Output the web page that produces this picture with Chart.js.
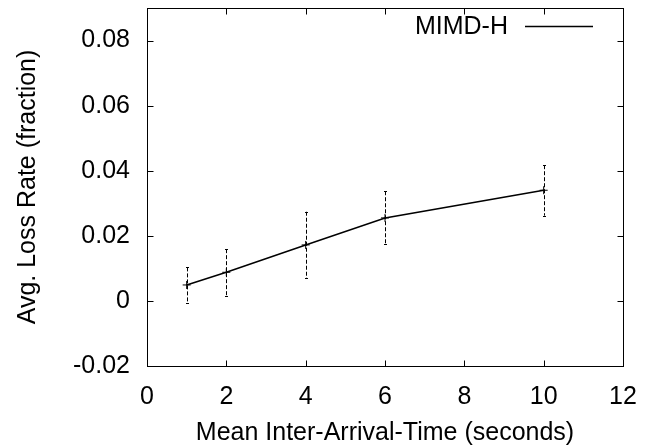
<!DOCTYPE html>
<html lang="en">
<head>
    <meta charset="UTF-8">
    <title>MIMD-H Avg. Loss Rate</title>
    <script src="https://cdn.jsdelivr.net/npm/chart.js"></script>
    <style>
        html, body { margin: 0; padding: 0; background: #fff; }
        #lossChart { display: block; }
    </style>
</head>
<body>
    <canvas id="lossChart" width="651" height="446"></canvas>

    <script>
        // values
        const seriesLabel = 'MIMD-H';
        const arrivalTimes = [1, 2, 4, 6, 10];
        const lossRates = [0.0049, 0.0088, 0.0172, 0.0255, 0.0340];
        const errLow = [-0.0006, 0.0016, 0.0069, 0.0174, 0.0262];
        const errHigh = [0.0103, 0.0159, 0.0274, 0.0337, 0.0417];

        const xTicks = [0, 2, 4, 6, 8, 10, 12];
        const xTickLabels = ['0', '2', '4', '6', '8', '10', '12'];
        const yTicks = [-0.02, 0, 0.02, 0.04, 0.06, 0.08];
        const yTickLabels = ['-0.02', '0', '0.02', '0.04', '0.06', '0.08'];

        const FONT = { family: '"Liberation Sans", Arial, sans-serif', size: 25 };
        const TICK_LEN = 6;

        // dashed error bars with tiny caps
        const errorBars = {
            id: 'errorBars',
            beforeDatasetsDraw(chart) {
                const ctx = chart.ctx;
                const xs = chart.scales.x, ys = chart.scales.y;
                ctx.save();
                ctx.strokeStyle = '#000';
                ctx.lineWidth = 1;
                arrivalTimes.forEach((t, i) => {
                    const px = Math.round(xs.getPixelForValue(t)) + 0.5;
                    const top = ys.getPixelForValue(errHigh[i]);
                    const bot = ys.getPixelForValue(errLow[i]);
                    ctx.setLineDash([4, 2]);
                    ctx.beginPath();
                    ctx.moveTo(px, top);
                    ctx.lineTo(px, bot);
                    ctx.stroke();
                    ctx.setLineDash([]);
                    ctx.beginPath();
                    ctx.moveTo(px - 1.5, Math.round(top) + 0.5);
                    ctx.lineTo(px + 1.5, Math.round(top) + 0.5);
                    ctx.moveTo(px - 1.5, Math.round(bot) + 0.5);
                    ctx.lineTo(px + 1.5, Math.round(bot) + 0.5);
                    ctx.stroke();
                });
                ctx.restore();
            }
        };

        // box frame, inward ticks on all four sides, and the key top right
        const frame = {
            id: 'frame',
            afterDraw(chart) {
                const ctx = chart.ctx;
                const a = chart.chartArea;
                const xs = chart.scales.x, ys = chart.scales.y;
                const l = Math.round(a.left) + 0.5, r = Math.round(a.right) + 0.5;
                const t = Math.round(a.top) + 0.5, b = Math.round(a.bottom) + 0.5;
                ctx.save();
                ctx.strokeStyle = '#000';
                ctx.lineWidth = 1;
                ctx.strokeRect(l, t, r - l, b - t);
                ctx.beginPath();
                xTicks.forEach(v => {
                    const px = Math.round(xs.getPixelForValue(v)) + 0.5;
                    ctx.moveTo(px, b); ctx.lineTo(px, b - TICK_LEN);
                    ctx.moveTo(px, t); ctx.lineTo(px, t + TICK_LEN);
                });
                yTicks.forEach(v => {
                    const py = Math.round(ys.getPixelForValue(v)) + 0.5;
                    ctx.moveTo(l, py); ctx.lineTo(l + TICK_LEN, py);
                    ctx.moveTo(r, py); ctx.lineTo(r - TICK_LEN, py);
                });
                ctx.stroke();

                // key: label then line sample
                const ky = a.top + 18.5;
                ctx.font = FONT.size + 'px ' + FONT.family;
                ctx.fillStyle = '#000';
                ctx.textAlign = 'right';
                ctx.textBaseline = 'middle';
                ctx.fillText(chart.data.datasets[0].label, a.right - 115, ky + 1);
                ctx.lineWidth = 1.5;
                ctx.beginPath();
                ctx.moveTo(a.right - 98, ky);
                ctx.lineTo(a.right - 30, ky);
                ctx.stroke();
                ctx.restore();
            }
        };

        const lossChart = new Chart(document.getElementById('lossChart').getContext('2d'), {
            type: 'line',
            data: {
                datasets: [{
                    label: seriesLabel,
                    data: arrivalTimes.map((t, i) => ({ x: t, y: lossRates[i] })),
                    borderColor: '#000',
                    borderWidth: 1.5,
                    pointStyle: 'cross',
                    pointRadius: 4,
                    pointBorderColor: '#000',
                    pointBorderWidth: 1,
                    fill: false,
                    tension: 0
                }]
            },
            options: {
                responsive: false,
                animation: false,
                devicePixelRatio: 1,
                layout: { padding: { left: 0, right: 28, top: 8, bottom: 0 } },
                plugins: {
                    legend: { display: false },
                    tooltip: { enabled: false }
                },
                scales: {
                    x: {
                        type: 'linear',
                        min: 0,
                        max: 12,
                        afterBuildTicks: s => { s.ticks = xTicks.map(v => ({ value: v })); },
                        afterFit: s => {
                            s.height = 80;
                            s.paddingLeft = 0;
                            s.paddingRight = 0;
                        },
                        grid: { display: false, drawTicks: false },
                        border: { display: false },
                        ticks: {
                            color: '#000',
                            font: FONT,
                            padding: 16,
                            maxRotation: 0,
                            autoSkip: false,
                            callback: (v, i) => xTickLabels[i]
                        },
                        title: {
                            display: true,
                            text: 'Mean Inter-Arrival-Time (seconds)',
                            color: '#000',
                            font: FONT,
                            padding: { top: 0, bottom: -2 }
                        }
                    },
                    y: {
                        type: 'linear',
                        min: -0.02,
                        max: 0.09,
                        afterBuildTicks: s => { s.ticks = yTicks.map(v => ({ value: v })); },
                        afterFit: s => {
                            s.width = 147;
                            s.paddingTop = 0;
                            s.paddingBottom = 0;
                        },
                        grid: { display: false, drawTicks: false },
                        border: { display: false },
                        ticks: {
                            color: '#000',
                            font: FONT,
                            padding: 17,
                            autoSkip: false,
                            callback: (v, i) => yTickLabels[i]
                        },
                        title: {
                            display: true,
                            text: 'Avg. Loss Rate (fraction)',
                            color: '#000',
                            font: FONT,
                            padding: { top: 13, bottom: 0 }
                        }
                    }
                }
            },
            plugins: [errorBars, frame]
        });
    </script>
</body>
</html>
